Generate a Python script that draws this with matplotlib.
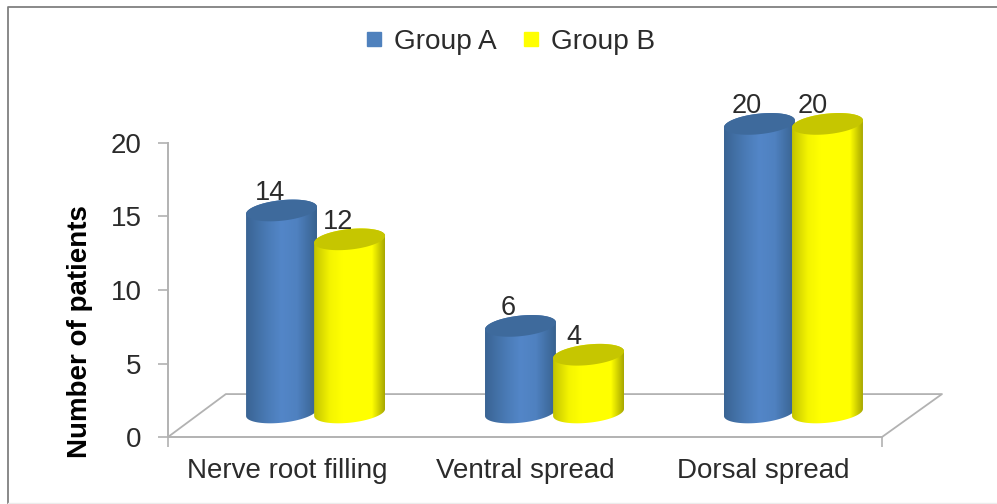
import numpy as np
import matplotlib
matplotlib.use("Agg")
import matplotlib.pyplot as plt
from matplotlib.colors import LinearSegmentedColormap
from matplotlib.lines import Line2D
from matplotlib.patches import Polygon

categories = ["Nerve root filling", "Ventral spread", "Dorsal spread"]
group_names = ["Group A", "Group B"]
group_a = [14, 6, 20]
group_b = [12, 4, 20]

plt.rcParams["font.family"] = ["Liberation Sans", "DejaVu Sans"]
TEXT = "#2b2b2b"
GREY = "#b2b2b2"
FS = 20

W, H = 997, 504
fig = plt.figure(figsize=(W / 100, H / 100), dpi=100, facecolor="white")
ax = fig.add_axes([168 / W, 1 - 437 / H, 714 / W, 294 / H])

# fake 3d: bars sit back on the floor and get sheared ellipses
BASE = 1.67
SCALE = 0.9815
SHIFT = 0.12
OFFSET = 0.143
HALF_W = 0.149
ELL_B = 0.7
SHEAR = 1.6

blue_map = LinearSegmentedColormap.from_list(
    "b", [(0, "#3a6494"), (0.3, "#4a7bb6"), (0.5, "#5386c8"), (0.72, "#4f81c0"), (1, "#38628f")])
yellow_map = LinearSegmentedColormap.from_list(
    "y", [(0, "#c4c400"), (0.22, "#f4f400"), (0.4, "#ffff00"), (0.82, "#ffff00"), (1, "#a8a800")])


def ellipse(cx, cy, t):
    dx = HALF_W * np.cos(t)
    return cx + dx, cy + ELL_B * np.sin(t) + SHEAR * dx


def cylinder(cx, value, cmap, top_color, z):
    y0 = BASE
    y1 = BASE + value * SCALE
    low = np.linspace(np.pi, 2 * np.pi, 60)
    up = np.linspace(0, np.pi, 60)
    xb, yb = ellipse(cx, y0, low)
    xt, yt = ellipse(cx, y1, up)
    body = Polygon(np.r_[np.c_[xb, yb], np.c_[xt, yt]], closed=True, fc="none", ec="none",
                   transform=ax.transData, clip_on=False)
    ax.add_patch(body)
    grad = np.linspace(0, 1, 128).reshape(1, -1)
    im = ax.imshow(grad, cmap=cmap, aspect="auto", interpolation="bilinear", zorder=z,
                   extent=[cx - HALF_W, cx + HALF_W, y0 - 2, y1 + 2])
    im.set_clip_box(fig.bbox)
    im.set_clip_path(body)
    xe, ye = ellipse(cx, y1, np.linspace(0, 2 * np.pi, 120))
    ax.fill(xe, ye, color=top_color, lw=0, zorder=z + 0.1, clip_on=False)


# floor
ax.plot([0, 0.081, 1.084, 1.0], [0, 0.146, 0.146, 0], transform=ax.transAxes,
        color=GREY, lw=1.3, clip_on=False, zorder=1)

x = np.arange(len(categories))
label_dx = [[-0.047, -0.05, -0.055], [-0.047, -0.063, -0.063]]
series = [group_a, group_b]
maps = [blue_map, yellow_map]
tops = ["#3e6a9c", "#c6c600"]
for s, vals in enumerate(series):
    sign = -1 if s == 0 else 1
    for i, v in enumerate(vals):
        cx = x[i] * 1.004 + SHIFT + sign * OFFSET
        cylinder(cx, v, maps[s], tops[s], 3 + s + i * 0.01)
        ax.text(cx + label_dx[s][i], BASE + v * SCALE + 1.2, str(v), ha="center", va="center",
                fontsize=FS - 0.5, color=TEXT, zorder=2, clip_on=False)

ax.set_xlim(-0.5, 2.5)
ax.set_ylim(0, 20)
ax.set_facecolor("none")
ax.set_yticks([0, 5, 10, 15, 20])
ax.set_xticks(x)
ax.set_xticklabels(categories)
ax.set_xticks([-0.5, 2.5], minor=True)
ax.tick_params(axis="x", which="major", length=0, pad=15, labelsize=FS, labelcolor=TEXT)
ax.tick_params(axis="x", which="minor", length=7, width=1.2, color=GREY)
ax.tick_params(axis="y", length=7, width=1.2, color=GREY, pad=12, labelsize=FS, labelcolor=TEXT)
for side in ["top", "right"]:
    ax.spines[side].set_visible(False)
for side in ["left", "bottom"]:
    ax.spines[side].set_color(GREY)
    ax.spines[side].set_linewidth(1.4)
ax.set_ylabel("Number of patients", fontsize=FS, fontweight="bold", color="black", labelpad=13, y=0.36)

handles = [Line2D([], [], ls="none", marker="s", ms=9.5, color=c) for c in ["#4f81bd", "#ffff00"]]
fig.legend(handles, group_names, loc="center", bbox_to_anchor=(509 / W, 1 - 42 / H), ncol=2,
           frameon=False, fontsize=20.2, labelcolor=TEXT, handlelength=0.8, handletextpad=0.3,
           columnspacing=0.85)

# picture frame
fig.add_artist(Line2D([8 / W, 8 / W, 1], [0, 1 - 6.5 / H, 1 - 6.5 / H], color="#808080", lw=1.3))
fig.add_artist(Line2D([8 / W, 1], [1 / H, 1 / H], color="#ececec", lw=1))

fig.savefig("out.png", dpi=100)
